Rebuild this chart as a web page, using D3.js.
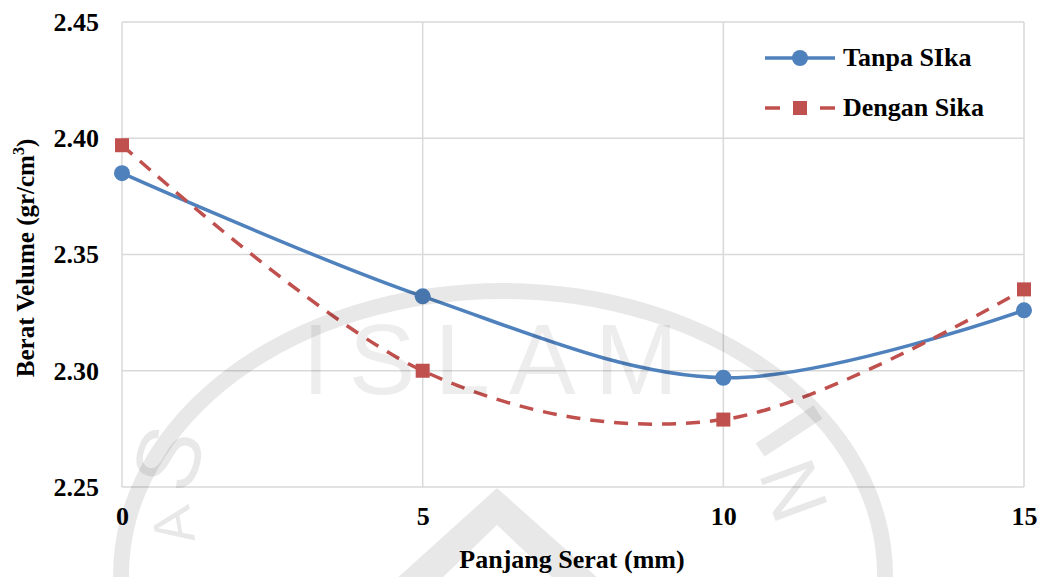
<!DOCTYPE html>
<html>
<head>
<meta charset="utf-8">
<script src="https://cdn.jsdelivr.net/npm/d3@7"></script>
<style>
  html, body { margin: 0; padding: 0; background: #fff; }
  svg { display: block; }
  text.lbl { font-family: "Liberation Serif", "Times New Roman", serif; font-weight: bold; fill: #000; }
  text.wm { font-family: "Liberation Sans", Arial, sans-serif; font-weight: normal; fill: #000; fill-opacity: 0.09; }
</style>
</head>
<body>
<svg id="chart" width="1045" height="577"></svg>
<script>
// Panjang serat (mm) on the x axis
const panjangSerat = [0, 5, 10, 15];
// Berat volume (gr/cm3) for each mix
const tanpaSika = [2.385, 2.332, 2.297, 2.326];
const denganSika = [2.397, 2.300, 2.279, 2.335];
const seriesNames = ["Tanpa SIka", "Dengan Sika"];
const yTicks = [2.25, 2.30, 2.35, 2.40, 2.45];
const xTicks = [0, 5, 10, 15];

const svg = d3.select("#chart");
const W = 1045, H = 577;
const plot = { left: 122, right: 1024, top: 22, bottom: 487 };

const x = d3.scaleLinear().domain([0, 15]).range([plot.left, plot.right]);
const y = d3.scaleLinear().domain([2.25, 2.45]).range([plot.bottom, plot.top]);

const blue = "#4F81BD", red = "#C0504D", grid = "#D9D9D9";

// gridlines and plot frame
const g = svg.append("g");
g.selectAll(".hgrid").data(yTicks).join("line")
  .attr("x1", plot.left).attr("x2", plot.right)
  .attr("y1", d => y(d)).attr("y2", d => y(d))
  .attr("stroke", grid).attr("stroke-width", 1.5);
g.selectAll(".vgrid").data(xTicks).join("line")
  .attr("x1", d => x(d)).attr("x2", d => x(d))
  .attr("y1", plot.top).attr("y2", plot.bottom)
  .attr("stroke", grid).attr("stroke-width", 1.5);

// axes (labels only; the frame comes from the grid)
const yAxis = d3.axisLeft(y).tickValues(yTicks).tickFormat(d3.format(".2f")).tickSize(0).tickPadding(23);
const yg = svg.append("g").attr("transform", `translate(${plot.left},0)`).call(yAxis);
yg.select(".domain").remove();
yg.selectAll("text").attr("class", "lbl").attr("font-size", 26);

const xAxis = d3.axisBottom(x).tickValues(xTicks).tickFormat(d3.format("d")).tickSize(0).tickPadding(20);
const xg = svg.append("g").attr("transform", `translate(0,${plot.bottom})`).call(xAxis);
xg.select(".domain").remove();
xg.selectAll("text").attr("class", "lbl").attr("font-size", 26);

// axis titles
svg.append("text").attr("class", "lbl").attr("x", 572).attr("y", 568).attr("text-anchor", "middle")
  .attr("font-size", 26).text("Panjang Serat (mm)");
const yt = svg.append("text").attr("class", "lbl").attr("transform", "translate(34,258) rotate(-90)")
  .attr("text-anchor", "middle").attr("font-size", 25);
yt.append("tspan").text("Berat Velume (gr/cm");
yt.append("tspan").attr("font-size", 16).attr("dy", -10).text("3");
yt.append("tspan").attr("dy", 10).text(")");

// smoothed series lines
const line = d3.line().x((d, i) => x(panjangSerat[i])).y(d => y(d)).curve(d3.curveCardinal.tension(0));

svg.append("path").datum(tanpaSika).attr("d", line)
  .attr("fill", "none").attr("stroke", blue).attr("stroke-width", 3.5);
svg.append("path").datum(denganSika).attr("d", line)
  .attr("fill", "none").attr("stroke", red).attr("stroke-width", 3.5)
  .attr("stroke-dasharray", "14,10");

// markers
svg.selectAll(".m1").data(tanpaSika).join("circle")
  .attr("cx", (d, i) => x(panjangSerat[i])).attr("cy", d => y(d)).attr("r", 8).attr("fill", blue);
svg.selectAll(".m2").data(denganSika).join("rect")
  .attr("x", (d, i) => x(panjangSerat[i]) - 7).attr("y", d => y(d) - 7)
  .attr("width", 14).attr("height", 14).attr("fill", red);

// legend
const lg = svg.append("g");
lg.append("line").attr("x1", 765).attr("x2", 835).attr("y1", 58).attr("y2", 58)
  .attr("stroke", blue).attr("stroke-width", 3.5);
lg.append("circle").attr("cx", 800).attr("cy", 58).attr("r", 8).attr("fill", blue);
lg.append("text").attr("class", "lbl").attr("x", 843).attr("y", 66).attr("font-size", 26).text(seriesNames[0]);
lg.append("line").attr("x1", 765).attr("x2", 835).attr("y1", 108).attr("y2", 108)
  .attr("stroke", red).attr("stroke-width", 3.5).attr("stroke-dasharray", "15,40");
lg.append("rect").attr("x", 793).attr("y", 101).attr("width", 14).attr("height", 14).attr("fill", red);
lg.append("text").attr("class", "lbl").attr("x", 843).attr("y", 116).attr("font-size", 26).text(seriesNames[1]);

// faint page watermark laid over the chart
const wm = svg.append("g").style("pointer-events", "none");
const shade = { fill: "#000", op: 0.09 };
// outer ring of the emblem
const cx = 503, cy = 575, rxO = 390, ryO = 292, th = 16;
wm.append("path")
  .attr("fill", shade.fill).attr("fill-opacity", shade.op)
  .attr("d",
    `M${cx - rxO},${H + 10} L${cx - rxO},${cy} A${rxO},${ryO} 0 0 1 ${cx + rxO},${cy} L${cx + rxO},${H + 10} L${cx + rxO - th},${H + 10} L${cx + rxO - th},${cy} ` +
    `A${rxO - th},${ryO - th} 0 0 0 ${cx - rxO + th},${cy} L${cx - rxO + th},${H + 10} Z`);
wm.append("text").attr("class", "wm").attr("x", 302).attr("y", 394)
  .attr("font-size", 100).attr("letter-spacing", 19)
  .style("fill-opacity", 0.07).text("ISLAM");
wm.append("text").attr("class", "wm").attr("transform", "translate(198,468) rotate(-72)")
  .attr("font-size", 90).attr("text-anchor", "middle").text("S");
wm.append("text").attr("class", "wm").attr("transform", "translate(192,522) rotate(-100)")
  .attr("font-size", 56).attr("text-anchor", "middle").text("A");
wm.append("text").attr("class", "wm").attr("transform", "translate(768,500) rotate(70)")
  .attr("font-size", 80).attr("text-anchor", "middle").text("N");
wm.append("line").attr("x1", 760).attr("y1", 450).attr("x2", 818).attr("y2", 412)
  .attr("stroke", shade.fill).attr("stroke-opacity", shade.op).attr("stroke-width", 16);
// mountain shape at the bottom centre
wm.append("path").attr("fill", shade.fill).attr("fill-opacity", shade.op).attr("fill-rule", "evenodd")
  .attr("d", "M497,488 L395,580 L600,580 Z M497,525 L440,580 L555,580 Z");
</script>
</body>
</html>
